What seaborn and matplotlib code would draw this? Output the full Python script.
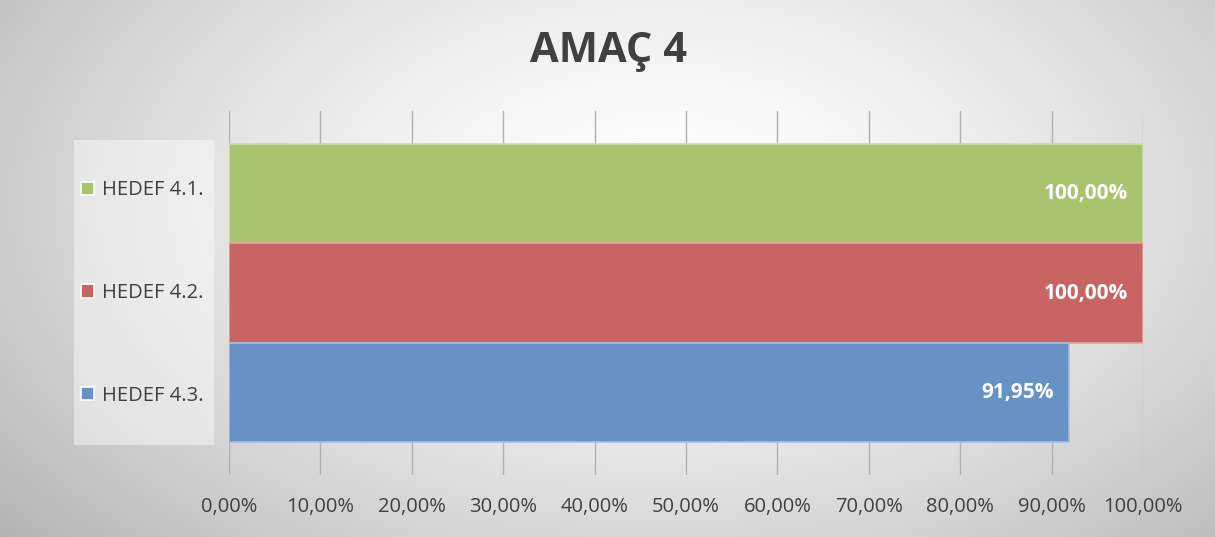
import numpy as np
import pandas as pd
import matplotlib
matplotlib.use("Agg")
import matplotlib.pyplot as plt
from matplotlib.patches import Rectangle
import seaborn as sns

# ---- data ----
series = ["HEDEF 4.1.", "HEDEF 4.2.", "HEDEF 4.3."]
values = [100.00, 100.00, 91.95]
value_labels = ["100,00%", "100,00%", "91,95%"]
tick_values = [0, 10, 20, 30, 40, 50, 60, 70, 80, 90, 100]
tick_labels = ["0,00%", "10,00%", "20,00%", "30,00%", "40,00%", "50,00%",
               "60,00%", "70,00%", "80,00%", "90,00%", "100,00%"]
title = "AMAÇ 4"
colors = ["#A9C46F", "#C86562", "#6692C6"]
edge_colors = ["#C9DCA2", "#E0A3A1", "#A3BFE0"]

df = pd.DataFrame({"cat": ["AMAÇ 4"] * len(series), "series": series, "value": values})

sns.set_theme(style="white")
plt.rcParams["font.family"] = ["Open Sans", "DejaVu Sans"]

W, H = 1215, 537
fig = plt.figure(figsize=(W / 100, H / 100), dpi=100, linewidth=1.5, edgecolor="#c4c4c4")

# background radial gradient
bg = fig.add_axes([0, 0, 1, 1], zorder=-10)
yy, xx = np.mgrid[0:H, 0:W]
r = np.sqrt(((xx - 660) / 700.0) ** 2 + ((yy - 200) / 420.0) ** 2)
val = np.clip(255 - 55 * r ** 1.5, 0, 255) / 255.0
bg.imshow(np.dstack([val, val, val]), aspect="auto", extent=[0, 1, 0, 1], origin="upper")
bg.axis("off")
# legend background box
bg.add_patch(Rectangle((74 / W, 1 - 445 / H), (214 - 74) / W, (445 - 140) / H,
                       transform=bg.transAxes, facecolor="white", alpha=0.45,
                       edgecolor="none", zorder=5))

ax = fig.add_axes([229 / W, 62 / H, (1143 - 229) / W, (475 - 111) / H])
ax.patch.set_alpha(0)

sns.barplot(data=df, y="cat", x="value", hue="series", hue_order=series,
            palette=colors, orient="h", width=0.818, ax=ax, legend=True,
            saturation=1, linewidth=1.2)

for cont, ec in zip(ax.containers, edge_colors):
    for p in cont.patches:
        p.set_edgecolor(ec)
        p.set_zorder(3)

# data labels
for cont, lab in zip(ax.containers, value_labels):
    p = cont.patches[0]
    ax.annotate(lab, xy=(p.get_width(), p.get_y() + p.get_height() / 2),
                xytext=(-11, 0), textcoords="offset points", ha="right", va="center",
                color="white", fontsize=15, fontweight="bold", zorder=5)

ax.set_xlim(0, 100)
ax.set_xticks(tick_values)
ax.set_xticklabels(tick_labels, fontsize=14.5, color="#404040")
ax.tick_params(axis="x", length=0, pad=16)
ax.set_yticks([])
ax.set_xlabel("")
ax.set_ylabel("")
for s in ax.spines.values():
    s.set_visible(False)
ax.grid(axis="x", color="#b0b0b0", linewidth=1.0, zorder=0)
ax.set_axisbelow(True)

handles, labels = ax.get_legend_handles_labels()
ax.get_legend().remove()
leg = fig.legend(handles, labels, loc="center left", bbox_to_anchor=(81 / W, 1 - 293 / H),
                 fontsize=14.5, frameon=False, handlelength=0.65,
                 handleheight=0.65, handletextpad=0.4, labelspacing=4.1,
                 borderpad=0, borderaxespad=0)
for t in leg.get_texts():
    t.set_color("#404040")

fig.text(609 / W, 1 - 52 / H, title, ha="center", va="center", fontsize=30,
         fontweight="bold", color="#404040")

fig.savefig("out.png", dpi=100, edgecolor=fig.get_edgecolor())
